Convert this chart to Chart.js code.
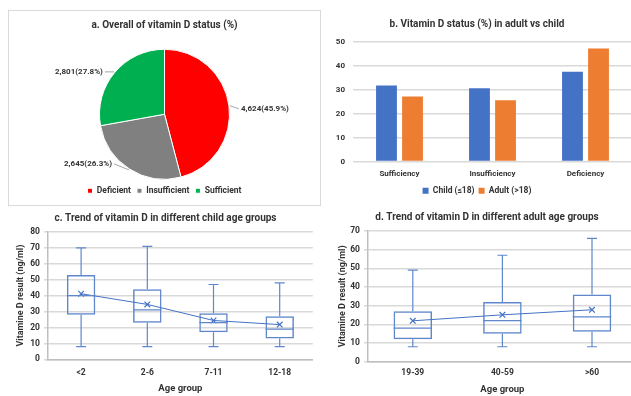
<!DOCTYPE html>
<html>
<head>
<meta charset="utf-8">
<script src="https://cdn.jsdelivr.net/npm/chart.js@4.4.0/dist/chart.umd.min.js"></script>
<style>
  body { margin: 0; background: #fff; overflow: hidden; width: 631px; height: 396px; position: relative; }
  .panel { position: absolute; }
  #panelA { left: 8px; top: 10px; width: 311px; height: 194px; border: 1px solid #d9d9d9; }
  #panelB { left: 322px; top: 10px; width: 320px; height: 195px; }
  #panelC { left: 0; top: 207px; width: 318px; height: 189px; }
  #panelD { left: 322px; top: 207px; width: 320px; height: 189px; }
</style>
</head>
<body>
<div class="panel" id="panelA"><canvas id="pieChart"></canvas></div>
<div class="panel" id="panelB"><canvas id="barChart"></canvas></div>
<div class="panel" id="panelC"><canvas id="childChart"></canvas></div>
<div class="panel" id="panelD"><canvas id="adultChart"></canvas></div>
<script>
// a. overall status
var statusLabels = ['Deficient', 'Insufficient', 'Sufficient'];
var statusCounts = [4624, 2645, 2801];
var statusPct = [45.9, 26.3, 27.8];

// b. adult vs child (%)
var groupLabels = ['Sufficiency', 'Insufficiency', 'Deficiency'];
var childPct = [31.8, 30.7, 37.6];
var adultPct = [27.2, 25.6, 47.3];

// c. child age groups (ng/ml)
var childAges = ['<2', '2-6', '7-11', '12-18'];
var childMin = [8, 8, 8, 8];
var childQ1 = [28, 23, 17, 13];
var childMed = [40, 31, 23, 19];
var childQ3 = [53, 44, 29, 27];
var childMax = [70, 71, 47, 48];
var childMean = [41.2, 34.5, 24.4, 21.8];

// d. adult age groups (ng/ml)
var adultAges = ['19-39', '40-59', '>60'];
var adultMin = [8, 8, 8];
var adultQ1 = [12, 15, 16];
var adultMed = [18, 22, 24];
var adultQ3 = [27, 32, 36];
var adultMax = [49, 57, 66];
var adultMean = [21.9, 25.1, 27.8];

var FONT = 'Roboto, sans-serif';
var TEXT = '#333333';
var GRID = '#d9d9d9';
var BLUE = '#4472C4';
var BOXLINE = '#5F87CC';

Chart.defaults.font.family = FONT;
Chart.defaults.font.weight = 'bold';
Chart.defaults.color = TEXT;
Chart.defaults.animation = false;
Chart.defaults.responsive = true;
Chart.defaults.maintainAspectRatio = false;
Chart.defaults.plugins.tooltip.enabled = false;

// outside labels with leader lines for the pie
var pieLabels = {
  id: 'pieLabels',
  afterDatasetsDraw: function(chart) {
    var ctx = chart.ctx;
    var meta = chart.getDatasetMeta(0);
    ctx.save();
    ctx.font = 'bold 8px ' + FONT;
    ctx.textBaseline = 'middle';
    meta.data.forEach(function(arc, i) {
      var p = arc.getProps(['x', 'y', 'startAngle', 'endAngle', 'outerRadius'], true);
      var mid = (p.startAngle + p.endAngle) / 2;
      var cos = Math.cos(mid), sin = Math.sin(mid);
      var ex = p.x + cos * (p.outerRadius + 1), ey = p.y + sin * (p.outerRadius + 1);
      var dir = cos >= 0 ? 1 : -1;
      // lower labels sit a little higher and further out, like Excel's best fit
      var low = sin > 0.5;
      var lx = ex + dir * (low ? 15 : 9);
      var ly = ey + (low ? -6 : (dir > 0 ? 3 : 0));
      ctx.strokeStyle = '#a6a6a6';
      ctx.lineWidth = 1;
      ctx.beginPath();
      ctx.moveTo(ex, ey);
      ctx.lineTo(lx, ly);
      ctx.stroke();
      ctx.fillStyle = TEXT;
      ctx.textAlign = dir > 0 ? 'left' : 'right';
      var txt = statusCounts[i].toLocaleString('en-US') + '(' + statusPct[i].toFixed(1) + '%)';
      ctx.fillText(txt, lx + dir * 2, ly);
    });
    ctx.restore();
  }
};

// whiskers, caps and median lines on top of the floating-bar boxes
var whiskers = {
  id: 'whiskers',
  afterDatasetsDraw: function(chart, args, opts) {
    var ctx = chart.ctx;
    var x = chart.scales.x, y = chart.scales.y;
    var boxes = chart.getDatasetMeta(1).data;
    ctx.save();
    ctx.strokeStyle = BOXLINE;
    ctx.lineWidth = 1.2;
    opts.min.forEach(function(v, i) {
      var cx = x.getPixelForValue(i);
      var half = boxes[i].width / 2;
      var cap = 5;
      ctx.beginPath();
      ctx.moveTo(cx, y.getPixelForValue(opts.min[i]));
      ctx.lineTo(cx, y.getPixelForValue(opts.q1[i]));
      ctx.moveTo(cx, y.getPixelForValue(opts.q3[i]));
      ctx.lineTo(cx, y.getPixelForValue(opts.max[i]));
      ctx.moveTo(cx - cap, y.getPixelForValue(opts.min[i]));
      ctx.lineTo(cx + cap, y.getPixelForValue(opts.min[i]));
      ctx.moveTo(cx - cap, y.getPixelForValue(opts.max[i]));
      ctx.lineTo(cx + cap, y.getPixelForValue(opts.max[i]));
      ctx.moveTo(cx - half, y.getPixelForValue(opts.med[i]));
      ctx.lineTo(cx + half, y.getPixelForValue(opts.med[i]));
      ctx.stroke();
    });
    ctx.restore();
  }
};

new Chart(document.getElementById('pieChart'), {
  type: 'pie',
  data: {
    labels: statusLabels,
    datasets: [{
      data: statusCounts,
      backgroundColor: ['#FF0000', '#808080', '#00B050'],
      borderColor: '#ffffff',
      borderWidth: 1,
      radius: 65
    }]
  },
  options: {
    plugins: {
      title: {
        display: true,
        text: 'a. Overall of vitamin D status (%)',
        font: { size: 10, weight: 'bold' },
        padding: { top: 8, bottom: 17 }
      },
      legend: {
        position: 'bottom',
        labels: {
          usePointStyle: true, pointStyle: 'rect',
          boxWidth: 5, boxHeight: 5, padding: 6,
          font: { size: 8.5, weight: 'bold' }
        }
      }
    }
  },
  plugins: [pieLabels]
});

new Chart(document.getElementById('barChart'), {
  type: 'bar',
  data: {
    labels: groupLabels,
    datasets: [
      { label: 'Child (\u226418)', data: childPct, backgroundColor: BLUE },
      { label: 'Adult (>18)', data: adultPct, backgroundColor: '#ED7D31' }
    ]
  },
  options: {
    categoryPercentage: 0.56,
    barPercentage: 0.8,
    layout: { padding: { left: 0, right: 10, bottom: 0 } },
    scales: {
      x: {
        grid: { display: false, drawTicks: false, tickLength: 0 },
        border: { display: false },
        ticks: { font: { size: 8, weight: 'bold' }, padding: 8 },
        afterFit: function(s) { s.height = 21; }
      },
      y: {
        min: 0, max: 50,
        ticks: { stepSize: 5, font: { size: 8, weight: 'bold' }, padding: 8 },
        grid: { color: GRID, lineWidth: 1.5, drawTicks: false },
        border: { display: false },
        afterFit: function(s) { s.width = 31; }
      }
    },
    plugins: {
      title: {
        display: true,
        text: 'b. Vitamin D status (%) in adult vs child',
        font: { size: 10, weight: 'bold' },
        padding: { top: 8, bottom: 12 }
      },
      legend: {
        position: 'bottom',
        labels: {
          boxWidth: 6, boxHeight: 6, padding: 4,
          font: { size: 8.5, weight: 'bold' }
        }
      }
    }
  }
});

function boxChart(id, title, ages, mins, q1, med, q3, max, mean, yMax, lay) {
  return new Chart(document.getElementById(id), {
    type: 'bar',
    data: {
      labels: ages,
      datasets: [
        {
          type: 'line', label: 'Mean', data: mean,
          borderColor: BLUE, borderWidth: 1,
          pointStyle: 'crossRot', pointRadius: 4,
          pointBorderColor: BLUE, pointBorderWidth: 1.2,
          pointBackgroundColor: BLUE
        },
        {
          label: 'IQR', data: q1.map(function(v, i) { return [v, q3[i]]; }),
          backgroundColor: 'rgba(255,255,255,0)',
          borderColor: BOXLINE, borderWidth: 1.5, borderSkipped: false,
          categoryPercentage: 1, barPercentage: 0.43
        }
      ]
    },
    options: {
      layout: { padding: { left: 15, right: lay.right, top: 0, bottom: 0 } },
      scales: {
        x: {
          grid: { display: false, drawTicks: false, tickLength: 0 },
          border: { display: true, color: '#bfbfbf', width: 1.5 },
          ticks: { font: { size: 8.5, weight: 'bold' }, padding: lay.tickPad },
          title: { display: true, text: 'Age group', font: { size: 9.5, weight: 'bold' }, padding: { top: 0, bottom: lay.titlePad } },
          afterFit: function(s) { s.height = lay.xHeight; }
        },
        y: {
          min: 0, max: yMax,
          ticks: { stepSize: 10, font: { size: 8.5, weight: 'bold' }, padding: 4 },
          grid: { color: GRID, lineWidth: 1.5, tickLength: 4 },
          border: { display: true, color: '#bfbfbf', width: 1.5 },
          title: { display: true, text: 'Vitamine D result (ng/ml)', font: { size: 9, weight: 'bold' }, padding: 0 },
          afterFit: function(s) { s.width = lay.yWidth; }
        }
      },
      plugins: {
        title: {
          display: true, text: title,
          font: { size: 10, weight: 'bold' },
          padding: { top: lay.titleTop, bottom: 8 }
        },
        legend: { display: false },
        whiskers: { min: mins, q1: q1, med: med, q3: q3, max: max }
      }
    },
    plugins: [whiskers]
  });
}

boxChart('childChart', 'c. Trend of vitamin D in different child age groups',
  childAges, childMin, childQ1, childMed, childQ3, childMax, childMean, 80,
  { right: 2, yWidth: 33, xHeight: 36.7, tickPad: 8.6, titlePad: 1.3, titleTop: 5 });

boxChart('adultChart', 'd. Trend of vitamin D in different adult age groups',
  adultAges, adultMin, adultQ1, adultMed, adultQ3, adultMax, adultMean, 70,
  { right: 5, yWidth: 31, xHeight: 34.3, tickPad: 6.2, titlePad: 0.3, titleTop: 4 });
</script>
</body>
</html>
